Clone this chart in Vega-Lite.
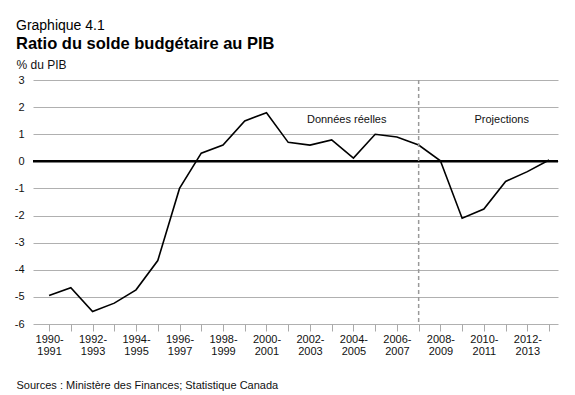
{
  "$schema": "https://vega.github.io/schema/vega-lite/v6.json",
  "width": 525,
  "height": 244,
  "autosize": {"type": "none"},
  "padding": {"left": 33, "top": 80, "right": 17, "bottom": 71},
  "background": "white",
  "config": {
    "font": "Liberation Sans",
    "view": {"stroke": null},
    "axisX": {
      "tickCount": 24,
      "labelExpr": "datum.value % 2 == 0 ? [datum.value + '-', '' + (datum.value + 1)] : ''",
      "grid": false,
      "domain": false,
      "ticks": true,
      "tickSize": 7,
      "tickColor": "#aaaaaa",
      "labelFontSize": 11,
      "labelLineHeight": 12,
      "labelColor": "#111111",
      "labelPadding": 2,
      "labelOverlap": false,
      "labelFlush": false,
      "titleFontSize": 11,
      "titleFontWeight": "normal",
      "titleColor": "#111111",
      "titleAlign": "left",
      "titleAnchor": "start",
      "titleBaseline": "alphabetic",
      "titleX": -17,
      "titleY": 64
    },
    "axisY": {
      "tickCount": 9,
      "labelExpr": "'' + datum.value",
      "labelOverlap": false,
      "grid": true,
      "gridColor": "#b0b0b0",
      "gridWidth": 1,
      "domain": false,
      "ticks": false,
      "labelPadding": 9,
      "labelFontSize": 11,
      "labelColor": "#111111",
      "titleAngle": 0,
      "titleAlign": "left",
      "titleBaseline": "alphabetic",
      "titleX": -17,
      "titleY": -12,
      "titleFontSize": 12,
      "titleFontWeight": "normal",
      "titleColor": "#111111"
    }
  },
  "title": {
    "text": "Graphique 4.1",
    "subtitle": "Ratio du solde budgétaire au PIB",
    "anchor": "start",
    "frame": "group",
    "dx": -17,
    "offset": 6,
    "fontSize": 14,
    "fontWeight": "normal",
    "color": "black",
    "subtitleFontSize": 16.5,
    "subtitleFontWeight": "bold",
    "subtitleColor": "black",
    "subtitlePadding": 3
  },
  "data": {
    "values": [
      {"exercice": "1990-1991", "debut": 1990, "solde": -4.95},
      {"exercice": "1991-1992", "debut": 1991, "solde": -4.66},
      {"exercice": "1992-1993", "debut": 1992, "solde": -5.54},
      {"exercice": "1993-1994", "debut": 1993, "solde": -5.23},
      {"exercice": "1994-1995", "debut": 1994, "solde": -4.74},
      {"exercice": "1995-1996", "debut": 1995, "solde": -3.66},
      {"exercice": "1996-1997", "debut": 1996, "solde": -1.0},
      {"exercice": "1997-1998", "debut": 1997, "solde": 0.3},
      {"exercice": "1998-1999", "debut": 1998, "solde": 0.6},
      {"exercice": "1999-2000", "debut": 1999, "solde": 1.49},
      {"exercice": "2000-2001", "debut": 2000, "solde": 1.79},
      {"exercice": "2001-2002", "debut": 2001, "solde": 0.7},
      {"exercice": "2002-2003", "debut": 2002, "solde": 0.6},
      {"exercice": "2003-2004", "debut": 2003, "solde": 0.79},
      {"exercice": "2004-2005", "debut": 2004, "solde": 0.12},
      {"exercice": "2005-2006", "debut": 2005, "solde": 1.0},
      {"exercice": "2006-2007", "debut": 2006, "solde": 0.9},
      {"exercice": "2007-2008", "debut": 2007, "solde": 0.6},
      {"exercice": "2008-2009", "debut": 2008, "solde": 0.02},
      {"exercice": "2009-2010", "debut": 2009, "solde": -2.1},
      {"exercice": "2010-2011", "debut": 2010, "solde": -1.76},
      {"exercice": "2011-2012", "debut": 2011, "solde": -0.74},
      {"exercice": "2012-2013", "debut": 2012, "solde": -0.38},
      {"exercice": "2013-2014", "debut": 2013, "solde": 0.05}
    ]
  },
  "layer": [
    {
      "mark": {"type": "line", "color": "black", "strokeWidth": 1.6},
      "encoding": {
        "x": {
          "field": "debut",
          "type": "quantitative",
          "scale": {"domain": [1989.26, 2013.41], "nice": false, "zero": false},
          "axis": {"title": "Sources : Ministère des Finances; Statistique Canada"}
        },
        "y": {
          "field": "solde",
          "type": "quantitative",
          "scale": {"domain": [-6, 3], "nice": false, "zero": false},
          "axis": {"title": "% du PIB"}
        }
      }
    },
    {
      "data": {"values": [{}]},
      "mark": {"type": "rule", "color": "black", "strokeWidth": 2.5},
      "encoding": {"y": {"datum": 0}}
    },
    {
      "data": {"values": [{}]},
      "mark": {"type": "rule", "color": "#999999", "strokeWidth": 1.5, "strokeDash": [4, 3]},
      "encoding": {"x": {"datum": 2007}}
    },
    {
      "data": {"values": [{}]},
      "mark": {"type": "text", "fontSize": 11, "color": "#111111", "align": "center", "baseline": "middle"},
      "encoding": {"x": {"datum": 2003.69}, "y": {"datum": 1.53}, "text": {"value": "Données réelles"}}
    },
    {
      "data": {"values": [{}]},
      "mark": {"type": "text", "fontSize": 11, "color": "#111111", "align": "center", "baseline": "middle"},
      "encoding": {"x": {"datum": 2010.82}, "y": {"datum": 1.53}, "text": {"value": "Projections"}}
    }
  ]
}
